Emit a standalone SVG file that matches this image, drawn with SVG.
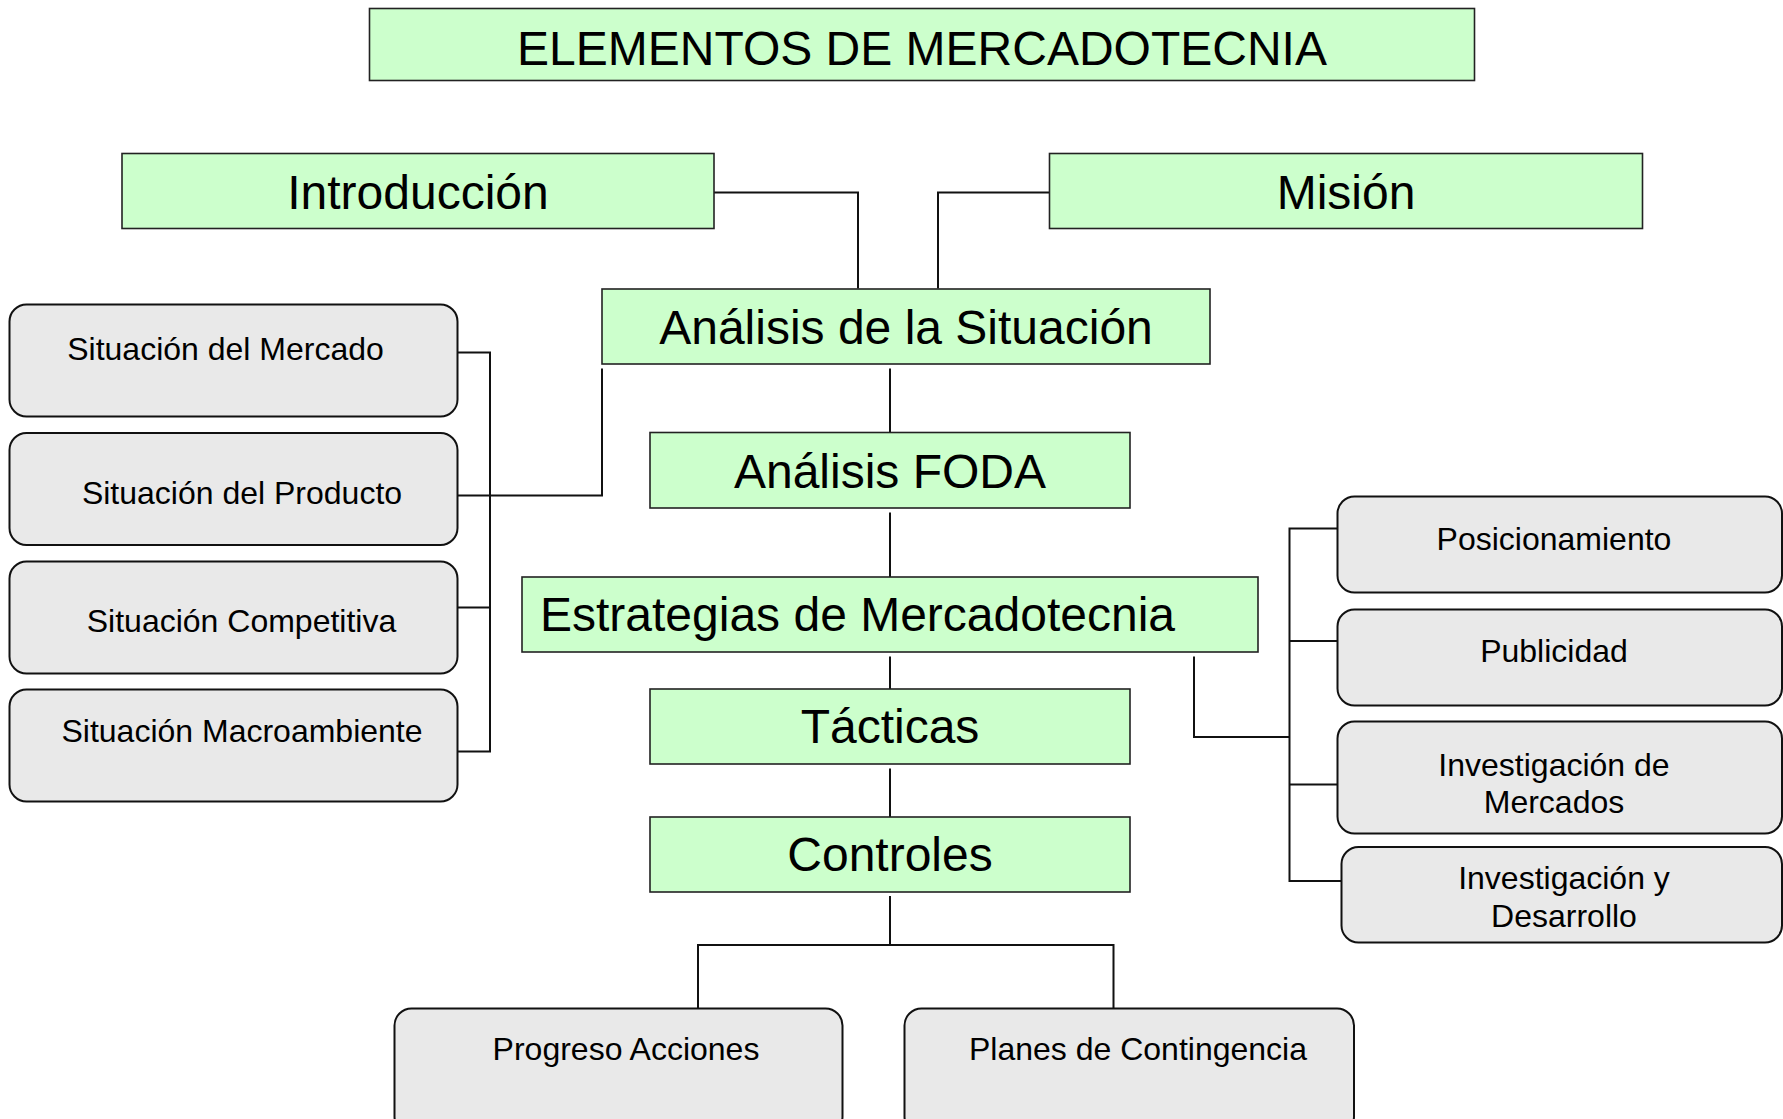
<svg xmlns="http://www.w3.org/2000/svg" width="1783" height="1119" viewBox="0 0 1783 1119">
<style>
.g{fill:#ccffcc;stroke:#222;stroke-width:1.6}
.r{fill:#e9e9e9;stroke:#111;stroke-width:2}
.t{font-family:"Liberation Sans",Arial,sans-serif;fill:#000}
.big{font-size:48px;text-anchor:middle}
.sm{font-size:32px;text-anchor:middle}
.c{fill:none;stroke:#111;stroke-width:2}
</style>
<rect width="1783" height="1119" fill="#fff"/>
<g id="connectors" class="c">
<path d="M714 192.5 H858 V288.5"/>
<path d="M1049.5 192.5 H938 V288.5"/>
<path d="M890 368.5 V432.5"/>
<path d="M890 512.5 V577"/>
<path d="M890 656.5 V689"/>
<path d="M890 768.5 V817"/>
<path d="M890 896 V945"/>
<path d="M698 1008.5 V945 H1113.5 V1008.5"/>
<path d="M457.5 352.5 H490 V751.5 H457.5"/>
<path d="M457.5 607.5 H490"/>
<path d="M457.5 495.5 H602 V368.5"/>
<path d="M1194 656.5 V737 H1289.5"/>
<path d="M1337.5 528.5 H1289.5 V881 H1341.5"/>
<path d="M1289.5 641 H1337.5"/>
<path d="M1289.5 784.5 H1337.5"/>
</g>
<g id="title"><rect class="g" x="369.5" y="8.5" width="1105" height="72"/><text class="t big" x="922" y="64.5">ELEMENTOS DE MERCADOTECNIA</text></g>
<g id="introduccion"><rect class="g" x="122" y="153.5" width="592" height="75"/><text class="t big" x="418" y="208.5">Introducción</text></g>
<g id="mision"><rect class="g" x="1049.5" y="153.5" width="593" height="75"/><text class="t big" x="1346" y="208.5">Misión</text></g>
<g id="analisis"><rect class="g" x="602" y="289" width="608" height="75"/><text class="t big" x="906" y="343.5">Análisis de la Situación</text></g>
<g id="foda"><rect class="g" x="650" y="432.5" width="480" height="75.5"/><text class="t big" x="890" y="487.5">Análisis FODA</text></g>
<g id="estrategias"><rect class="g" x="522" y="577" width="736" height="75"/><text class="t" font-size="48" x="540" y="631">Estrategias de Mercadotecnia</text></g>
<g id="tacticas"><rect class="g" x="650" y="689" width="480" height="75"/><text class="t big" x="890" y="742.5">Tácticas</text></g>
<g id="controles"><rect class="g" x="650" y="817" width="480" height="75"/><text class="t big" x="890" y="871">Controles</text></g>
<g id="sit-mercado"><rect class="r" x="9.5" y="304.5" width="448" height="112" rx="17"/><text class="t sm" x="225.5" y="360">Situación del Mercado</text></g>
<g id="sit-producto"><rect class="r" x="9.5" y="433" width="448" height="112" rx="17"/><text class="t sm" x="242" y="503.5">Situación del Producto</text></g>
<g id="sit-competitiva"><rect class="r" x="9.5" y="561.5" width="448" height="112" rx="17"/><text class="t sm" x="241.5" y="632">Situación Competitiva</text></g>
<g id="sit-macro"><rect class="r" x="9.5" y="689.5" width="448" height="112" rx="17"/><text class="t sm" x="242" y="742">Situación Macroambiente</text></g>
<g id="posicionamiento"><rect class="r" x="1337.5" y="496.5" width="444.5" height="96" rx="17"/><text class="t sm" x="1554" y="550">Posicionamiento</text></g>
<g id="publicidad"><rect class="r" x="1337.5" y="609.5" width="444.5" height="96" rx="17"/><text class="t sm" x="1554" y="662">Publicidad</text></g>
<g id="inv-mercados"><rect class="r" x="1337.5" y="721.5" width="444.5" height="112" rx="17"/><text class="t sm" x="1554" y="776">Investigación de</text><text class="t sm" x="1554" y="813">Mercados</text></g>
<g id="inv-desarrollo"><rect class="r" x="1341.5" y="847" width="440.5" height="95.5" rx="17"/><text class="t sm" x="1564" y="889">Investigación y</text><text class="t sm" x="1564" y="926.5">Desarrollo</text></g>
<g id="progreso"><rect class="r" x="394.5" y="1008.5" width="448" height="125" rx="17"/><text class="t sm" x="626" y="1060">Progreso Acciones</text></g>
<g id="planes"><rect class="r" x="904.5" y="1008.5" width="449.5" height="125" rx="17"/><text class="t sm" x="1138" y="1060">Planes de Contingencia</text></g>
</svg>
